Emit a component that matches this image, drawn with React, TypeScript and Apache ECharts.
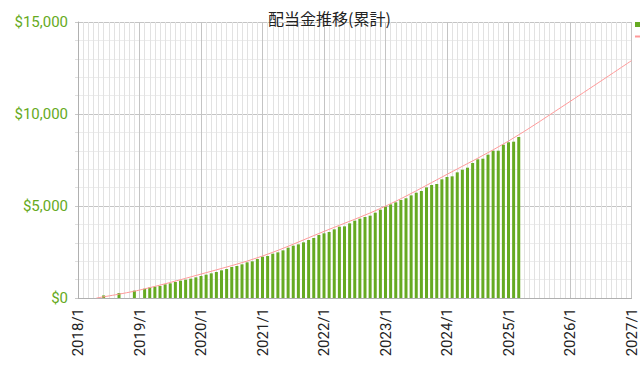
import React, { useEffect, useRef } from "react";
import * as echarts from "echarts";

const TITLE = "配当金推移(累計)";
const SERIES_BAR = "配当金(累計)";
const SERIES_TREND = "近似曲線";
const START_YEAR = 2018;
const END_YEAR = 2027;

const BAR_MONTHS = [
  "2018/6", "2018/9", "2018/12",
  "2019/2", "2019/3", "2019/4", "2019/5", "2019/6", "2019/7", "2019/8", "2019/9", "2019/10", "2019/11", "2019/12",
  "2020/1", "2020/2", "2020/3", "2020/4", "2020/5", "2020/6", "2020/7", "2020/8", "2020/9", "2020/10", "2020/11", "2020/12",
  "2021/1", "2021/2", "2021/3", "2021/4", "2021/5", "2021/6", "2021/7", "2021/8", "2021/9", "2021/10", "2021/11", "2021/12",
  "2022/1", "2022/2", "2022/3", "2022/4", "2022/5", "2022/6", "2022/7", "2022/8", "2022/9", "2022/10", "2022/11", "2022/12",
  "2023/1", "2023/2", "2023/3", "2023/4", "2023/5", "2023/6", "2023/7", "2023/8", "2023/9", "2023/10", "2023/11", "2023/12",
  "2024/1", "2024/2", "2024/3", "2024/4", "2024/5", "2024/6", "2024/7", "2024/8", "2024/9", "2024/10", "2024/11", "2024/12",
  "2025/1", "2025/2", "2025/3",
];

const BAR_VALUES = [
  140, 270, 400,
  505, 575, 616, 652, 743, 797, 870, 942, 997, 1051, 1123,
  1196, 1268, 1341, 1413, 1504, 1576, 1685, 1740, 1830, 1939, 1993, 2118,
  2245, 2281, 2408, 2480, 2589, 2734, 2843, 2915, 3024, 3151, 3260, 3423,
  3514, 3586, 3731, 3876, 3894, 4057, 4202, 4311, 4402, 4474, 4637, 4800,
  4963, 5090, 5199, 5326, 5420, 5578, 5723, 5814, 6011, 6141, 6196, 6449,
  6576, 6612, 6829, 6973, 7082, 7336, 7535, 7571, 7789, 8006, 8006, 8332,
  8458, 8495, 8750,
];

const TREND_DATES = [
  "2018/4/19", "2019/1/1", "2020/1/1", "2021/1/1", "2022/1/1",
  "2023/1/1", "2024/1/1", "2025/1/1", "2026/1/1", "2027/1/1",
];
const TREND_VALUES = [0, 430, 1300, 2280, 3620, 4990, 6720, 8530, 10680, 12900];

const Y_MAX = 15000;
const Y_STEP = 5000;

function monthIndex(s: string): number {
  const [y, m, d] = s.split("/").map(Number);
  return (y - START_YEAR) * 12 + (m - 1) + ((d || 1) - 1) / 30;
}

export default function App() {
  const ref = useRef<HTMLDivElement>(null);

  useEffect(() => {
    if (!ref.current) return;
    const chart = echarts.init(ref.current, undefined, { renderer: "svg" });
    const green = "#66aa22";
    const labelFont = "Roboto";
    chart.setOption({
      animation: false,
      backgroundColor: "#ffffff",
      title: {
        text: TITLE,
        left: 263,
        top: 5,
        textStyle: {
          fontSize: 16,
          fontWeight: "normal",
          color: "#222222",
          fontFamily: "Noto Sans CJK JP",
        },
      },
      legend: {
        orient: "vertical",
        left: 634,
        top: 22,
        padding: 0,
        itemWidth: 14,
        itemHeight: 5,
        itemGap: 7,
        formatter: () => "",
        data: [
          { name: SERIES_BAR, icon: "rect" },
          { name: SERIES_TREND },
        ],
      },
      grid: { left: 78, right: 8.5, top: 22, bottom: 90, containLabel: false },
      xAxis: {
        type: "value",
        min: 0,
        max: (END_YEAR - START_YEAR) * 12,
        interval: 12,
        axisLine: { show: true, lineStyle: { color: "#b0b0b0" } },
        axisTick: { show: false },
        axisLabel: {
          rotate: 90,
          margin: 10,
          fontSize: 15,
          fontFamily: labelFont,
          color: "#222222",
          formatter: (v: number) => `${START_YEAR + Math.round(v / 12)}/1`,
        },
        splitLine: { show: true, lineStyle: { color: "#c4c4c4", width: 1 } },
        minorTick: { show: false, splitNumber: 12 },
        minorSplitLine: { show: true, lineStyle: { color: "#e2e2e2", width: 1 } },
      },
      yAxis: {
        type: "value",
        min: 0,
        max: Y_MAX,
        interval: Y_STEP,
        axisLine: { show: true, lineStyle: { color: "#b0b0b0" } },
        axisTick: { show: true, length: 3, lineStyle: { color: "#c8c8c8" } },
        minorTick: { show: true, splitNumber: 5, length: 3, lineStyle: { color: "#e0e0e0" } },
        axisLabel: {
          margin: 10,
          fontSize: 15,
          fontFamily: labelFont,
          color: green,
          formatter: (v: number) => `$${v.toLocaleString("en-US")}`,
        },
        splitLine: { show: true, lineStyle: { color: "#c4c4c4", width: 1 } },
        minorSplitLine: { show: true, lineStyle: { color: "#ececec", width: 1 } },
      },
      series: [
        {
          name: SERIES_BAR,
          type: "bar",
          barWidth: 3,
          itemStyle: { color: green },
          data: BAR_MONTHS.map((m, i) => [monthIndex(m), BAR_VALUES[i]]),
          z: 2,
        },
        {
          name: SERIES_TREND,
          type: "line",
          smooth: 0.35,
          symbol: "none",
          lineStyle: { color: "#ff9a9a", width: 1 },
          itemStyle: { color: "#ff9a9a" },
          data: TREND_DATES.map((d, i) => [monthIndex(d), TREND_VALUES[i]]),
          z: 3,
        },
      ],
    });
    return () => chart.dispose();
  }, []);

  return <div ref={ref} style={{ width: 640, height: 388, position: "absolute", left: 0, top: 0 }} />;
}
